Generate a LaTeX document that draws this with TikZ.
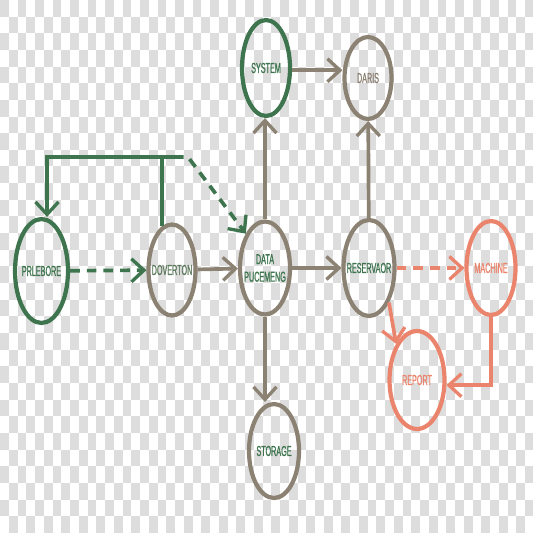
\documentclass[tikz,border=0pt]{standalone}
\usepackage{fontspec}
\setmainfont{Liberation Sans}[FakeStretch=0.5, FakeBold=0.9]
\usetikzlibrary{shapes.geometric}
\usetikzlibrary{arrows.meta, positioning}

\definecolor{dgreen}{RGB}{62,117,78}
\definecolor{dgray}{RGB}{140,130,115}
\definecolor{dorange}{RGB}{234,132,108}
\definecolor{chk}{RGB}{221,221,221}

\tikzset{
    ell/.style 2 args={draw, ellipse, line width=2.4pt, inner xsep=-5pt, inner ysep=0pt, minimum width=#1, minimum height=#2, font=\fontsize{8.2}{10}\selectfont, align=center},
    con/.style={line width=2.1pt, -{Straight Barb[length=2.5mm, width=4.6mm, line width=1.9pt]}},
    dcon/.style={con, dash pattern=on 5.5pt off 4pt},
}

\begin{document}
\begin{tikzpicture}[x=0.02cm, y=-0.02cm]

    \useasboundingbox (0,0) rectangle (533,533);
\begin{scope}
\clip (0,0) rectangle (533,533);
\foreach \j in {0,...,31} {
    \pgfmathtruncatemacro{\ofs}{mod(\j,2)}
    \pgfmathtruncatemacro{\ofn}{\ofs+2}
    \foreach \i in {\ofs,\ofn,...,60}
        \fill[chk] (\i*8.75, \j*16.65) rectangle ++(8.75, 16.65);
}
\end{scope}


    \node[ell={0.96cm}{1.92cm}, draw=dgreen, text=dgreen] (NSys) at (266, 68) {SYSTEM};
\node[ell={0.94cm}{1.64cm}, draw=dgray, text=dgray] (NDar) at (368, 78) {DARIS};
\node[ell={1.06cm}{2.08cm}, draw=dgreen, text=dgreen] (NPrl) at (41.5, 271) {PRLEBORE};
\node[ell={0.94cm}{1.82cm}, draw=dgray, text=dgreen!60!dgray] (NDov) at (172, 270) {DOVERTON};
\node[ell={1.0cm}{1.86cm}, draw=dgray, text=dgreen] (NDat) at (265, 268) {DATA\\PUCEMENG};
\node[ell={1.02cm}{1.92cm}, draw=dgray, text=dgreen] (NRes) at (369, 268) {RESERVAOR};
\node[ell={0.98cm}{1.88cm}, draw=dorange, text=dorange] (NMac) at (491, 268) {MACHINE};
\node[ell={1.1cm}{1.96cm}, draw=dorange, text=dorange] (NRep) at (417, 380) {REPORT};
\node[ell={1.0cm}{1.88cm}, draw=dgray, text=dgreen] (NSto) at (274, 451) {STORAGE};


    \draw[dcon, dgreen] (NPrl) -- (NDov);
\draw[con, dgray] (NDov) -- (NDat);

    \coordinate (CLeft) at (47, 157);
\coordinate (CSplit) at (174, 157);
\coordinate (CBend) at (188, 157);
\draw[line width=2.1pt, dgreen] (NDov.103) -- (NDov.103 |- CSplit);
\draw[con, dgreen] (CSplit) -- (CLeft) -- (CLeft |- NPrl.north);
\draw[dcon, dgreen] (CSplit) -- (CBend) -- (NDat.north west);


    \draw[con, dgray] (NDat) -- (NDat |- NSys.south);
\draw[con, dgray] (NSys.-5) -- (NSys.-5 -| NDar.west);
\draw[con, dgray] (NRes) -- (NDar);
\draw[con, dgray] (NDat) -- (NRes);
\draw[con, dgray] (NDat.south) -- (NDat.south |- NSto.north);


    \draw[dcon, dorange] (NRes) -- (NMac);
\draw[con, dorange] (NRes.-60) -- (NRep.120);
\draw[con, dorange] (NMac.south) |- (NRep.-10);

\end{tikzpicture}
\end{document}
